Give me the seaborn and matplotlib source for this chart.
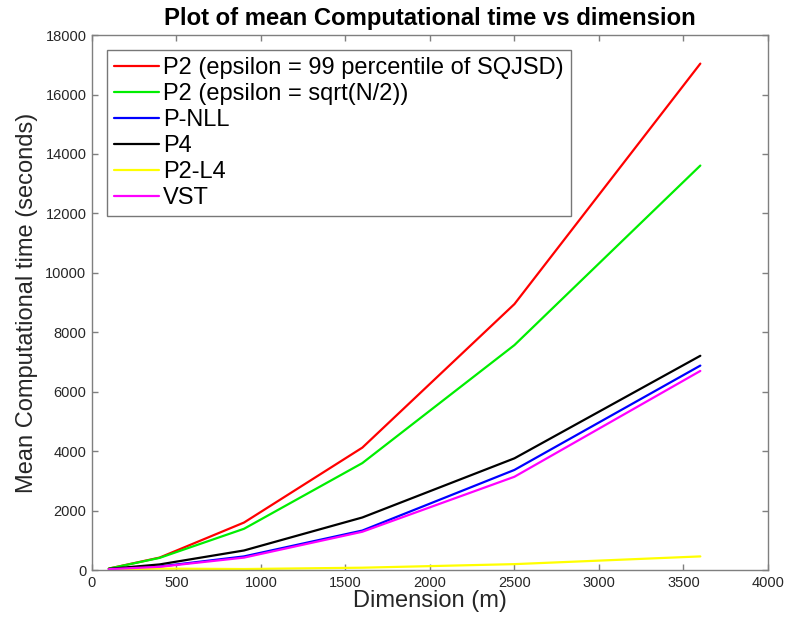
import matplotlib
matplotlib.use("Agg")
import matplotlib.pyplot as plt
import seaborn as sns
import pandas as pd

# Problem dimension m
dimension = [100, 400, 900, 1600, 2500, 3600]

# Mean computational time (seconds) per method
p2_sqjsd = [50, 420, 1600, 4120, 8950, 17040]
p2_sqrt = [50, 410, 1390, 3600, 7570, 13610]
p_nll = [30, 120, 460, 1330, 3370, 6880]
p4 = [40, 190, 660, 1770, 3760, 7210]
p2_l4 = [10, 50, 35, 80, 200, 460]
vst = [30, 110, 420, 1290, 3140, 6700]

labels = [
    "P2 (epsilon = 99 percentile of SQJSD)",
    "P2 (epsilon = sqrt(N/2))",
    "P-NLL",
    "P4",
    "P2-L4",
    "VST",
]
series = [p2_sqjsd, p2_sqrt, p_nll, p4, p2_l4, vst]
colors = ["#ff0000", "#00ee00", "#0000ff", "#000000", "#ffff00", "#ff00ff"]

frames = []
for lab, vals in zip(labels, series):
    frames.append(pd.DataFrame({"Dimension": dimension, "Time": vals, "Method": lab}))
df = pd.concat(frames, ignore_index=True)

sns.set_style("white")
plt.rcParams["font.family"] = ["Liberation Sans", "DejaVu Sans"]

fig = plt.figure(figsize=(7.86, 6.21), dpi=100)
ax = fig.add_axes([0.117, 0.082, 0.860, 0.8615])

sns.lineplot(data=df, x="Dimension", y="Time", hue="Method", hue_order=labels,
             palette=dict(zip(labels, colors)), linewidth=1.6, ax=ax,
             estimator=None, sort=False)

ax.set_xlim(0, 4000)
ax.set_ylim(0, 18000)
ax.set_xticks(range(0, 4001, 500))
ax.set_yticks(range(0, 18001, 2000))

axis_grey = "#7f7f7f"
for sp in ax.spines.values():
    sp.set_visible(True)
    sp.set_color(axis_grey)
    sp.set_linewidth(1.0)
ax.tick_params(axis="both", direction="in", length=4.5, width=1.0, color=axis_grey,
               labelsize=10.5, labelcolor="#262626", top=True, right=True,
               bottom=True, left=True, pad=4)

ax.set_xlabel("Dimension (m)", fontsize=17, labelpad=0, color="#262626")
ax.set_ylabel("Mean Computational time (seconds)", fontsize=17, labelpad=5,
              color="#262626")
ax.set_title("Plot of mean Computational time vs dimension", fontsize=17.2,
             fontweight="bold", pad=7, color="black")

leg = ax.legend(loc="upper left", bbox_to_anchor=(0.0217, 0.9725), fontsize=17,
                frameon=True, fancybox=False, handlelength=1.9, handletextpad=0.2,
                labelspacing=0.17, borderpad=0.3, borderaxespad=0.0)
leg.get_frame().set_edgecolor("#555555")
leg.get_frame().set_linewidth(1.0)
for line in leg.get_lines():
    line.set_linewidth(1.6)
for txt in leg.get_texts():
    txt.set_color("black")

fig.savefig("out.png", dpi=100)
